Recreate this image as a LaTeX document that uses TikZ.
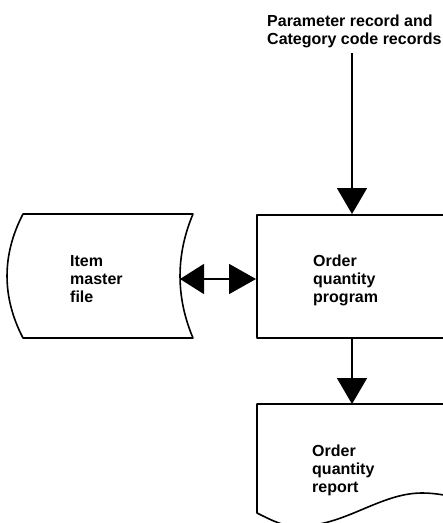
\documentclass[tikz,border=0pt]{standalone}
\usepackage{fontspec}
\setmainfont{Liberation Sans}
\usetikzlibrary{arrows.meta,calc}
\begin{document}
\begin{tikzpicture}[x=1pt,y=-1pt,
  outline/.style={line width=1.6pt, line join=round},
  flow/.style={line width=1.6pt, -{Triangle[length=26pt,width=30pt]}},
  lbl/.style={font=\fontsize{16}{18}\selectfont\bfseries, align=left,
              inner sep=0pt, anchor=north west},
]
\useasboundingbox (0,0) rectangle (443,523);
\clip (0,0) rectangle (443,523);

% item master file (stored data symbol)
\draw[outline] (23,214) -- (193,214)
  .. controls (175.7,255) and (175.7,297) .. (193,338) -- (23,338)
  .. controls (1.7,297) and (1.7,255) .. cycle;
\coordinate (imf port) at (180,279);
\node[lbl] (imf) at (70,255) {Item\\master\\file};

% order quantity program (process box, runs past the right edge)
\node[draw, outline, anchor=north west, minimum width=250pt,
      minimum height=123pt, inner sep=0pt] (prog) at (256,214) {};
\node[lbl] (progtext) at (313,255) {Order\\quantity\\program};

% input records
\node[lbl] (params) at (267,15) {Parameter record and\\Category code records};

% order quantity report (document symbol)
\draw[outline] (520,404) -- (257,404) -- (257,513)
  .. controls (275,522) and (285,527) .. (300,526)
  .. controls (345,526) and (380,493) .. (422,493)
  .. controls (435,493) and (445,495) .. (470,500);
\coordinate (rep in) at (352,404);
\node[lbl] (reptext) at (312,445) {Order\\quantity\\report};

% connectors
\draw[flow, shorten <=5pt] (params.south -| rep in) -- (prog.north west -| rep in);
\draw[line width=1.6pt,
      {Triangle[length=24pt,width=30pt]}-{Triangle[length=27pt,width=30pt]}]
  (imf port) -- (prog.west |- imf port);
\draw[flow] (prog.south west -| rep in) -- (rep in);
\end{tikzpicture}
\end{document}
